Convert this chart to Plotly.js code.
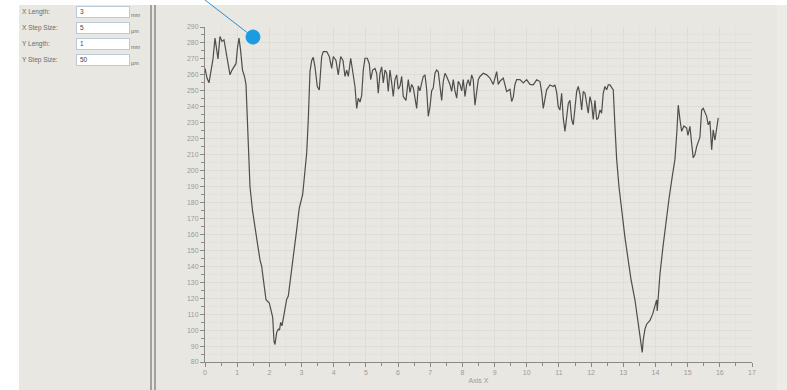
<!DOCTYPE html>
<html>
<head>
<meta charset="utf-8">
<script src="https://cdn.plot.ly/plotly-3.0.1.min.js"></script>
<style>
  html, body { margin:0; padding:0; background:#ffffff; width:787px; height:390px; overflow:hidden; }
  #bg { position:absolute; left:19px; top:5px; width:768px; height:385px; background:#e9e7e1; }
  #rstrip { position:absolute; left:777px; top:5px; width:10px; height:385px; background:#edece7; }
  #chart { position:absolute; left:0; top:0; width:787px; height:390px; }
  .div1 { position:absolute; top:5px; height:385px; width:2px; background:#a3a29e; }
  .lbl { position:absolute; left:22px; font:6.5px "Liberation Sans", Arial, sans-serif; color:#6a6a6a; }
  .box { position:absolute; left:76px; width:49px; height:10px; background:#ffffff; border:1px solid #b9cad8;
         font:6.5px "Liberation Sans", Arial, sans-serif; color:#444; line-height:10px; padding-left:3px; box-sizing:content-box; }
  .unit { position:absolute; left:131px; font:5.5px "Liberation Sans", Arial, sans-serif; color:#6a6a6a; }
</style>
</head>
<body>
<div id="bg"></div>
<div id="rstrip"></div>
<div class="div1" style="left:150px"></div>
<div class="div1" style="left:154px"></div>
<div id="panel"></div>
<div id="chart"></div>
<script>
// ---- panel settings ----
const fieldLabels = ["X Length:", "X Step Size:", "Y Length:", "Y Step Size:"];
const fieldValues = ["3", "5", "1", "50"];
const fieldUnits  = ["mm", "µm", "mm", "µm"];

// ---- profile data (Axis X in mm, height) ----
const xPos = [
0.000,0.062,0.124,0.186,0.249,0.311,0.357,0.404,0.466,0.528,0.590,0.653,0.715,0.777,0.839,0.901,0.963,1.010,1.057,1.103,
1.165,1.227,1.274,1.305,1.336,1.367,1.398,1.476,1.554,1.625,1.709,1.762,1.812,1.896,1.998,2.073,2.104,2.144,2.175,2.228,
2.278,2.315,2.352,2.393,2.455,2.539,2.589,2.663,2.725,2.781,2.850,2.930,3.036,3.107,3.160,3.210,3.241,3.263,3.316,3.365,
3.418,3.490,3.552,3.626,3.676,3.782,3.863,3.937,3.987,4.071,4.142,4.217,4.288,4.351,4.403,4.453,4.528,4.608,4.661,4.714,
4.764,4.817,4.869,4.919,4.972,5.043,5.106,5.149,5.211,5.283,5.336,5.385,5.438,5.491,5.541,5.594,5.646,5.696,5.749,5.802,
5.851,5.904,5.957,6.007,6.060,6.113,6.162,6.246,6.318,6.370,6.423,6.473,6.526,6.579,6.628,6.681,6.734,6.784,6.837,6.889,
6.939,6.992,7.045,7.094,7.147,7.200,7.250,7.303,7.355,7.405,7.458,7.511,7.561,7.613,7.666,7.716,7.769,7.822,7.871,7.924,
7.977,8.027,8.080,8.132,8.182,8.235,8.288,8.337,8.390,8.443,8.493,8.546,8.648,8.754,8.856,8.959,9.012,9.065,9.114,9.167,
9.270,9.375,9.478,9.531,9.580,9.633,9.686,9.789,9.891,9.997,10.099,10.202,10.308,10.410,10.463,10.513,10.566,10.618,10.721,10.824,
10.876,10.929,10.979,11.032,11.084,11.134,11.187,11.240,11.290,11.342,11.395,11.445,11.498,11.551,11.600,11.653,11.706,11.756,11.809,11.861,
11.911,11.964,12.017,12.066,12.119,12.172,12.222,12.275,12.327,12.377,12.430,12.483,12.533,12.586,12.638,12.688,12.741,12.794,12.865,12.958,
13.052,13.145,13.238,13.362,13.465,13.549,13.589,13.621,13.673,13.726,13.829,13.912,13.984,14.037,14.055,14.077,14.139,14.232,14.326,14.419,
14.512,14.605,14.667,14.708,14.761,14.813,14.885,14.969,15.009,15.072,15.124,15.174,15.227,15.280,15.382,15.435,15.485,15.538,15.590,15.640,
15.693,15.746,15.795,15.848,15.901,15.951
];
const height = [
264,258,255,262,270,283,276,270,284,281,282,274,266,260,263,265,267,277,283,276,
263,259,254,238,222,208,190,175,163,155,144,140,132,119,117,110,108,93,91,98.6,
100.6,100,104.8,102.7,109,119.4,121.4,132,144,152,163,176.7,185,198,211,232,250,262,269,271,
265,252.7,250.6,271.5,274.6,274.6,271.5,264,271.5,269,260,271.5,269,259,263,259,270.4,261,252.7,239,
245.4,243,247,263,270.4,270.4,267,257,263,264,261,248.5,261,265,255,263,261,249.6,263,255,
246.4,257,260,251,253,259,246.4,244,257,249,254,252,246.4,239,253,250,255,259,260,251,
234,240,250,251.7,261,263,262,253,244,256,261,259,257,254,249.6,257,250,245.4,256,254,
250,257,246.4,254,257,253,260,257,241,251,257,259,261,260,258,254,258,262,254,256,
258,249.6,251,243.3,246,254,257,257,255,257,254,253.7,256.9,255.8,249,239,245,250.6,253.7,252.7,
253.7,249,240,238,248.5,233,224.6,233,242,244,232,228.7,240,249.6,252.7,248,238,249.6,248.5,242,
236,246.4,242,232,244,232,233,238,236,248.5,252.7,250.6,253.7,253.7,252,250.6,227.7,207,190,172,
158,145,132,119,102.7,90,86,94,100.6,103.7,106,110,115,119,112,120,135,152,168,182,
195,207,225,241,232,224.6,228,226.7,222,227.7,217,208,210,215,221,238,239,236,234,228.7,
231,213,225.6,219,228,233
];

const xRange = [0, 17];
const yRange = [80, 290];
const xTitle = "Axis X";

// build left panel
const panel = document.getElementById("panel");
const boxTops = [6, 22, 38, 54];
fieldLabels.forEach((t, i) => {
  const l = document.createElement("div"); l.className = "lbl"; l.textContent = t;
  l.style.top = (boxTops[i] + 2) + "px"; panel.appendChild(l);
  const b = document.createElement("div"); b.className = "box"; b.textContent = fieldValues[i];
  b.style.top = boxTops[i] + "px"; panel.appendChild(b);
  const u = document.createElement("div"); u.className = "unit"; u.textContent = fieldUnits[i];
  u.style.top = (boxTops[i] + 6) + "px"; panel.appendChild(u);
});

const tickFont = { family: "Liberation Sans, Arial, sans-serif", size: 7, color: "#9c9b97" };

const trace = {
  x: xPos, y: height, type: "scatter", mode: "lines",
  line: { color: "#4e4e4e", width: 1.2 }, hoverinfo: "skip"
};

const layout = {
  width: 787, height: 390,
  margin: { l: 205, r: 35, t: 27, b: 28 },
  paper_bgcolor: "rgba(0,0,0,0)",
  plot_bgcolor: "rgba(0,0,0,0)",
  showlegend: false,
  xaxis: {
    range: xRange, tickmode: "linear", tick0: 0, dtick: 1,
    ticks: "outside", ticklen: 4, tickcolor: "#8a8985", tickwidth: 1,
    showline: true, linecolor: "#8a8985", linewidth: 1,
    showgrid: true, gridcolor: "#dfddd7", gridwidth: 1, zeroline: false,
    tickfont: tickFont,
    minor: { dtick: 0.5, ticks: "outside", ticklen: 3, tickcolor: "#8a8985", showgrid: true, gridcolor: "#e4e2dc" },
    title: { text: xTitle, font: tickFont, standoff: 2 }
  },
  yaxis: {
    range: yRange, tickmode: "linear", tick0: 80, dtick: 10,
    ticks: "outside", ticklen: 4, tickcolor: "#8a8985", tickwidth: 1,
    showline: true, linecolor: "#8a8985", linewidth: 1,
    showgrid: true, gridcolor: "#dfddd7", gridwidth: 1, zeroline: false,
    tickfont: tickFont,
    minor: { dtick: 5, ticks: "outside", ticklen: 3, tickcolor: "#8a8985", showgrid: true, gridcolor: "#e4e2dc" }
  },
  shapes: [
    { type: "line", xref: "paper", yref: "paper", x0: 0, y0: 1.0806, x1: 0.0878, y1: 0.970,
      line: { color: "#2a8fd0", width: 1 } },
    { type: "circle", xref: "paper", yref: "paper", x0: 0.0750, x1: 0.1005, y0: 0.949, y1: 0.991,
      fillcolor: "#1b9be0", line: { color: "#1b9be0", width: 1 } }
  ]
};

Plotly.newPlot("chart", [trace], layout, { staticPlot: true, displayModeBar: false });
</script>
</body>
</html>
